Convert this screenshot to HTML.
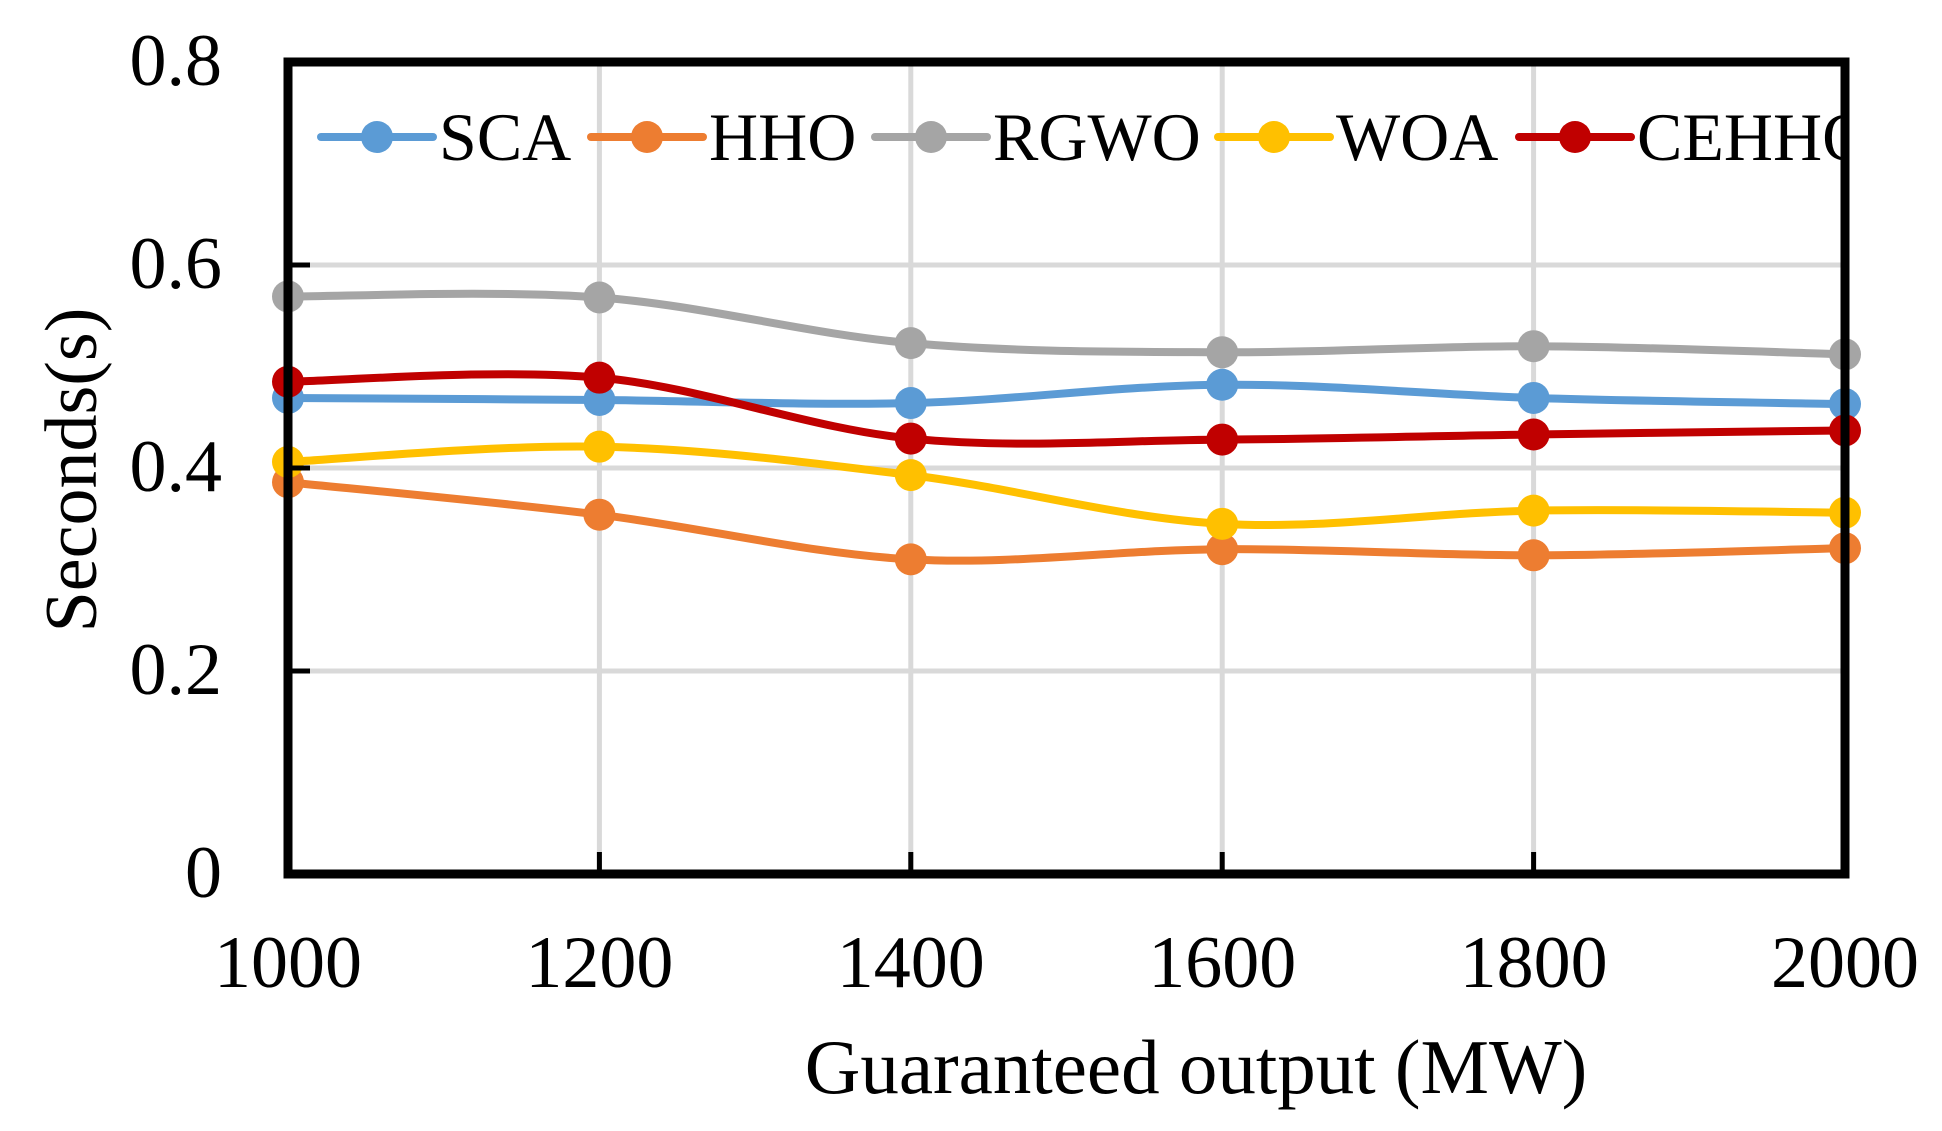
<!DOCTYPE html>
<html><head><meta charset="utf-8"><style>
html,body{margin:0;padding:0;background:#fff;}
svg{display:block;font-family:"Liberation Serif",serif;}
</style></head><body>
<svg id="chart" width="1942" height="1131" viewBox="0 0 1942 1131">
<defs><clipPath id="plotclip"><rect x="288" y="58" width="1560" height="820"/></clipPath></defs>
<g id="grid"></g>
<g id="series"></g>
<rect x="288" y="62" width="1557" height="812" fill="none" stroke="#000" stroke-width="9"/>
<g id="ticks"></g>
<g id="legend" clip-path="url(#plotclip)"></g>
<text x="1196" y="1093" font-size="77" text-anchor="middle">Guaranteed output (MW)</text>
<text transform="translate(96,470) rotate(-90)" font-size="74" text-anchor="middle">Seconds(s)</text>
</svg>
<script>
const categories = [1000, 1200, 1400, 1600, 1800, 2000];
const yTicks = [0, 0.2, 0.4, 0.6, 0.8];
const yTickLabels = ["0", "0.2", "0.4", "0.6", "0.8"];
const seriesNames = ["SCA", "HHO", "RGWO", "WOA", "CEHHO"];
const seriesColors = ["#5b9bd5", "#ed7d31", "#a5a5a5", "#ffc000", "#c00000"];
const sca = [0.469, 0.467, 0.464, 0.482, 0.469, 0.463];
const hho = [0.386, 0.354, 0.310, 0.320, 0.314, 0.321];
const rgwo = [0.569, 0.568, 0.523, 0.514, 0.520, 0.512];
const woa = [0.406, 0.421, 0.393, 0.345, 0.358, 0.356];
const cehho = [0.485, 0.489, 0.429, 0.428, 0.433, 0.437];
const allSeries = [sca, hho, rgwo, woa, cehho];

const NS = "http://www.w3.org/2000/svg";
const X0 = 288, X1 = 1845, Y0 = 874, Y1 = 62;
function xScale(v){ return X0 + (v - categories[0]) / (categories[categories.length-1] - categories[0]) * (X1 - X0); }
function yScale(v){ return Y0 - v / 0.8 * (Y0 - Y1); }
function mk(tag, attrs, parent){ const e = document.createElementNS(NS, tag); for (const k in attrs) e.setAttribute(k, attrs[k]); parent.appendChild(e); return e; }

const grid = document.getElementById('grid');
const ticks = document.getElementById('ticks');
yTicks.forEach((t, i) => {
  const y = yScale(t);
  if (t > 0 && t < 0.8) {
    const g = mk('line', {x1: X0, x2: X1, y1: y, y2: y, stroke: '#d9d9d9', 'stroke-width': 5}, grid);
    
    
  }
  const tk = mk('line', {x1: X0, x2: X0 + 22, y1: y, y2: y, stroke: '#000', 'stroke-width': 5}, ticks);
  
  
  const lb = mk('text', {x: 222, y: y + 23, 'font-size': 74, 'text-anchor': 'end'}, ticks);
  lb.textContent = yTickLabels[i];
  
  
});
categories.forEach((c, i) => {
  const x = xScale(c);
  if (i > 0 && i < categories.length - 1) {
    const g = mk('line', {x1: x, x2: x, y1: Y0, y2: Y1, stroke: '#d9d9d9', 'stroke-width': 5}, grid);
    
    
    const tk = mk('line', {x1: x, x2: x, y1: Y0, y2: Y0 - 22, stroke: '#000', 'stroke-width': 5}, ticks);
    
    
  }
  const lb = mk('text', {x: x, y: 987, 'font-size': 74, 'text-anchor': 'middle'}, ticks);
  lb.textContent = String(c);
  
  
});

function smoothPath(pts){
  let d = `M${pts[0][0]},${pts[0][1]}`;
  for (let i = 0; i < pts.length - 1; i++) {
    const p0 = pts[Math.max(0, i-1)], p1 = pts[i], p2 = pts[i+1], p3 = pts[Math.min(pts.length-1, i+2)];
    const c1x = p1[0] + (p2[0] - p0[0]) / 6, c1y = p1[1] + (p2[1] - p0[1]) / 6;
    const c2x = p2[0] - (p3[0] - p1[0]) / 6, c2y = p2[1] - (p3[1] - p1[1]) / 6;
    d += ` C${c1x},${c1y} ${c2x},${c2y} ${p2[0]},${p2[1]}`;
  }
  return d;
}
const sg = document.getElementById('series');
allSeries.forEach((vals, si) => {
  const g = mk('g', {}, sg);
  
  
  const pts = vals.map((v, i) => [xScale(categories[i]), yScale(v)]);
  const p = mk('path', {d: smoothPath(pts), fill: 'none', stroke: seriesColors[si], 'stroke-width': 8, 'stroke-linecap': 'round'}, g);
  
  
  pts.forEach(pt => {
    const c = mk('circle', {cx: pt[0], cy: pt[1], r: 16, fill: seriesColors[si]}, g);
    
    
  });
});

const legendX = [321, 591, 875, 1218, 1519];
const lg = document.getElementById('legend');
seriesNames.forEach((n, i) => {
  const g = mk('g', {}, lg);
  
  
  const x = legendX[i];
  mk('line', {x1: x, x2: x + 112, y1: 137, y2: 137, stroke: seriesColors[i], 'stroke-width': 8, 'stroke-linecap': 'round'}, g);
  mk('circle', {cx: x + 56, cy: 137, r: 16, fill: seriesColors[i]}, g);
  const t = mk('text', {x: x + 118, y: 160, 'font-size': 68}, g);
  t.textContent = n;
});
</script>
</body></html>
